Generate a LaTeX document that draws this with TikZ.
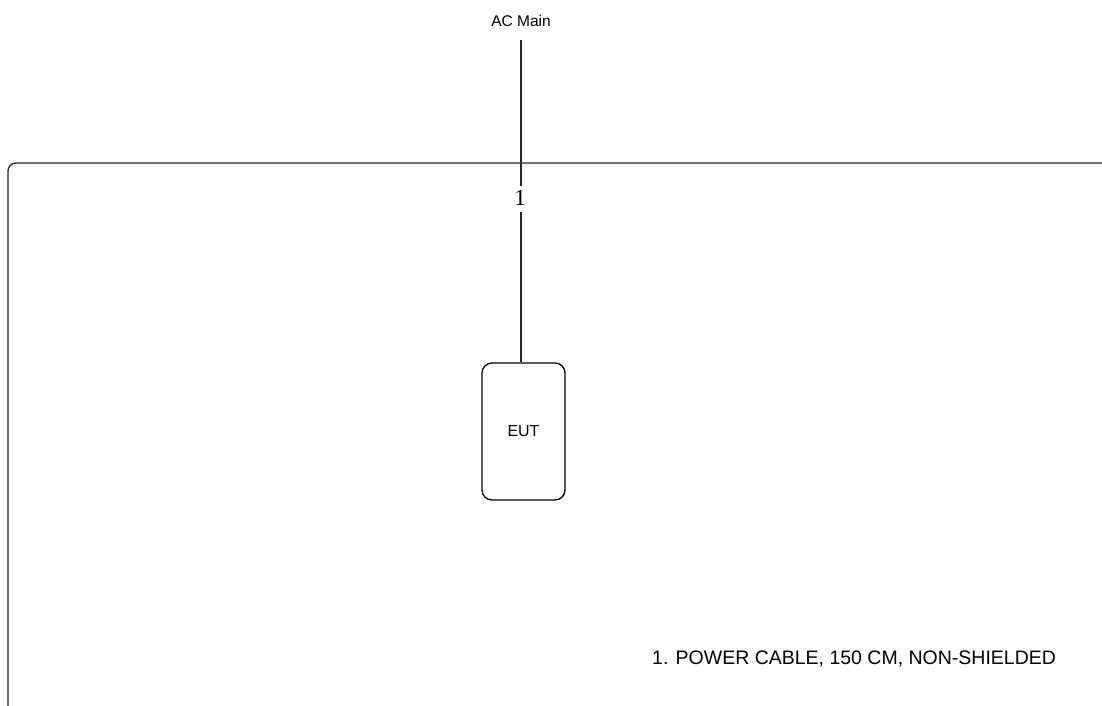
\documentclass[tikz,border=0pt]{standalone}
\usepackage{fontspec}
\setmainfont{Liberation Sans}
\newfontfamily\serifnum{Liberation Serif}
\begin{document}
\begin{tikzpicture}[x=1bp,y=-1bp,
  wire/.style={draw=black!85,line width=1.3bp},
  lbl/.style={inner sep=0pt,font=\fontsize{15.5bp}{18bp}\selectfont},
  eutbox/.style={draw=black,line width=1.3bp,rounded corners=10bp,minimum width=83bp,minimum height=137bp,inner sep=0pt,font=\fontsize{16bp}{18bp}\selectfont}]
\useasboundingbox (0,0) rectangle (1102,706);
\draw[wire,rounded corners=8bp] (8,712) -- (8,163) -- (1110,163);
\node[lbl] (ac) at (521,21) {AC Main};
\node[inner sep=0pt,font=\serifnum\fontsize{23bp}{25bp}\selectfont] (one) at (520,198) {1};
\node[eutbox] (eut) at (523.5,431.5) {EUT};
\coordinate (acb) at (521,40);
\coordinate (onet) at (521,186);
\coordinate (oneb) at (521,212);
\draw[wire] (acb) -- (onet);
\draw[wire] (oneb) -- (oneb |- eut.north);
\node[anchor=base west,inner sep=0pt,font=\fontsize{19.5bp}{22bp}\selectfont] (note) at (652,664) {1. POWER CABLE, 150 CM, NON-SHIELDED};
\end{tikzpicture}
\end{document}
